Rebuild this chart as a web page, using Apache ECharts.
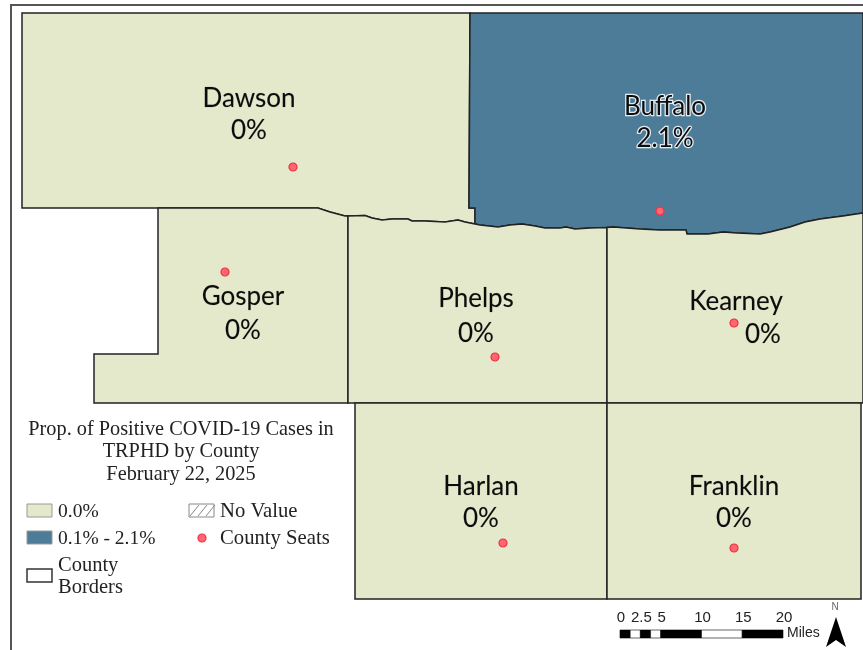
<!DOCTYPE html>
<html>
<head>
<meta charset="utf-8">
<title>TRPHD COVID-19 by County</title>
<script src="https://cdn.jsdelivr.net/npm/echarts@6/dist/echarts.min.js"></script>
<style>
  html, body { margin: 0; padding: 0; background: #fff; }
  #main { width: 863px; height: 650px; }
</style>
</head>
<body>
<div id="main"></div>
<script>
// county values (%)
const counties = ['Dawson', 'Buffalo', 'Gosper', 'Phelps', 'Kearney', 'Harlan', 'Franklin'];
const values = [0, 2.1, 0, 0, 0, 0, 0];
const valueText = ['0%', '2.1%', '0%', '0%', '0%', '0%', '0%'];

// map units, y measured from the top of the sheet
const riverWest = [[318, 208], [330, 212], [345, 216], [348, 216]];
const riverMid = [[348, 216], [365, 215.5], [372, 218], [382, 220], [392, 219], [408, 219], [412, 221], [425, 221], [445, 222], [458, 220], [465, 222], [475, 224]];
const riverEast = [[475, 224], [480, 225], [498, 227], [510, 225], [522, 224], [535, 226], [545, 228], [560, 228], [566, 227], [575, 229], [590, 228], [607, 227.5]];
const riverFar = [[607, 227.5], [613, 227], [640, 229], [660, 230], [686, 230], [687, 234], [708, 234], [723, 232], [737, 233], [760, 234], [770, 232], [790, 227], [805, 222], [820, 219], [843, 216], [863, 213]];

const dawsonShape = [[22, 13], [470, 13], [469, 208], [475, 208]].concat(riverMid.slice().reverse(), riverWest.slice().reverse().slice(1), [[22, 208]]);
const buffaloShape = [[470, 13], [863, 13], [863, 213]].concat(riverFar.slice().reverse().slice(1), riverEast.slice().reverse().slice(1), [[475, 208], [469, 208]]);
const gosperShape = [[158, 208]].concat(riverWest, [[348, 403], [94, 403], [94, 354], [158, 354]]);
const phelpsShape = riverMid.concat(riverEast.slice(1), [[607, 403], [348, 403]]);
const kearneyShape = riverFar.concat([[863, 403], [607, 403]]);
const harlanShape = [[355, 403], [607, 403], [607, 599], [355, 599]];
const franklinShape = [[607, 403], [861, 403], [861, 599], [607, 599]];
const shapes = [dawsonShape, buffaloShape, gosperShape, phelpsShape, kearneyShape, harlanShape, franklinShape];

const seats = [[293, 167], [660, 211], [225, 272], [495, 357], [734, 323], [503, 543], [734, 548]];
const nameAt = [[249, 98.5], [665, 106.5], [243, 296.5], [476, 298.5], [736, 301.5], [481, 486.5], [734, 486.5]];
const valueAt = [[249, 130.5], [665, 138.5], [243, 330.5], [476, 333.5], [763, 334.5], [481, 518.5], [734, 518.5]];

const titleLines = ['Prop. of Positive COVID-19 Cases in', 'TRPHD by County', 'February 22, 2025'];
const scaleMiles = [0, 2.5, 5, 10, 15, 20];
const scaleStops = [0, 1.25, 2.5, 3.75, 5, 10, 15, 20];

const LAND = '#e5e9cc';
const BLUE = '#4d7c99';
const LINE = '#222';
const SEAT = '#ff6670';
const SERIF = '"Liberation Serif", "DejaVu Serif", serif';

const toMap = (p) => [p[0], 650 - p[1]];

const geoJson = {
  type: 'FeatureCollection',
  features: counties.map((name, i) => ({
    type: 'Feature',
    properties: { name: name },
    geometry: { type: 'Polygon', coordinates: [shapes[i].concat([shapes[i][0]]).map(toMap)] }
  }))
};
echarts.registerMap('trphd', geoJson);

const legendText = (x, y, text, size) => ({
  type: 'text', x: x, y: y,
  style: { text: text, fill: '#222', font: size + 'px ' + SERIF, textVerticalAlign: 'middle' }
});
const swatch = (x, y, fill, stroke, w) => ({
  type: 'rect', shape: { x: x, y: y, width: 25, height: 13 },
  style: { fill: fill, stroke: stroke, lineWidth: w }
});

const hatch = [0, 1, 2].map((k) => ({
  type: 'line',
  shape: { x1: 190 + k * 8, y1: 516, x2: 199 + k * 8, y2: 505 },
  style: { stroke: '#888', lineWidth: 1 }
}));

// scale bar, 8.15 px per mile
const MILE = 8.15;
const scaleBar = scaleStops.slice(1).map((s, i) => ({
  type: 'rect',
  shape: { x: 620 + scaleStops[i] * MILE, y: 630, width: (s - scaleStops[i]) * MILE, height: 8 },
  style: { fill: i % 2 ? '#fff' : '#000', stroke: '#000', lineWidth: 0.6 }
}));
const scaleLabels = scaleMiles.map((m) => ({
  type: 'text', x: 621 + m * MILE, y: 618,
  style: { text: String(m), fill: '#222', font: '15px "Liberation Sans", Arial, sans-serif', textAlign: 'center', textVerticalAlign: 'middle' }
}));

function labelStyle(i, text) {
  // Buffalo sits on the dark fill, so its text gets a pale halo
  return {
    formatter: text,
    textBorderColor: values[i] > 0 ? 'rgba(255,255,255,0.85)' : 'rgba(0,0,0,0.25)',
    textBorderWidth: values[i] > 0 ? 2.5 : 0.4
  };
}

const chart = echarts.init(document.getElementById('main'));
chart.setOption({
  animation: false,
  backgroundColor: '#fff',
  title: titleLines.map((t, i) => ({
    text: t,
    left: 181,
    top: 418.5 + i * 22.5,
    textAlign: 'center',
    padding: 0,
    textStyle: { fontFamily: SERIF, fontSize: 20.3, fontWeight: 'normal', color: '#222', lineHeight: 22 }
  })),
  visualMap: {
    show: false,
    seriesIndex: 0,
    pieces: [
      { lte: 0, color: LAND },
      { gt: 0, color: BLUE }
    ]
  },
  geo: {
    map: 'trphd',
    left: 0, top: 0, right: 0, bottom: 0,
    aspectScale: 1,
    boundingCoords: [[0, 650], [863, 0]],
    silent: true,
    label: { show: false },
    itemStyle: { areaColor: LAND, borderColor: LINE, borderWidth: 1.5 }
  },
  series: [
    {
      type: 'map',
      geoIndex: 0,
      silent: true,
      data: counties.map((name, i) => ({ name: name, value: values[i] }))
    },
    {
      type: 'scatter',
      coordinateSystem: 'geo',
      silent: true,
      symbolSize: 8,
      itemStyle: { color: SEAT, borderColor: '#f03040', borderWidth: 1.2, opacity: 1 },
      data: seats.map(toMap),
      z: 5
    },
    {
      type: 'scatter',
      coordinateSystem: 'geo',
      silent: true,
      symbolSize: 0,
      z: 6,
      itemStyle: { opacity: 1 },
      label: {
        show: true,
        position: 'inside',
        fontFamily: 'Lato',
        fontSize: 26,
        color: '#0c0c0c'
      },
      data: counties.flatMap((name, i) => [
        { value: toMap(nameAt[i]), label: labelStyle(i, name) },
        { value: toMap(valueAt[i]), label: labelStyle(i, valueText[i]) }
      ])
    }
  ],
  graphic: [
    { type: 'line', shape: { x1: 11, y1: 5, x2: 863, y2: 5 }, style: { stroke: '#555', lineWidth: 2 } },
    { type: 'line', shape: { x1: 11, y1: 4, x2: 11, y2: 650 }, style: { stroke: '#555', lineWidth: 2 } },
    swatch(27, 504, LAND, '#999', 1),
    swatch(27, 531, BLUE, '#999', 1),
    swatch(27, 569, '#fff', '#333', 1.5),
    swatch(189, 504, '#fff', '#888', 1),
    ...hatch,
    { type: 'circle', shape: { cx: 202, cy: 538, r: 4 }, style: { fill: SEAT, stroke: '#f03040', lineWidth: 1.2 } },
    legendText(58, 511.5, '0.0%', 19.5),
    legendText(58, 538.5, '0.1% - 2.1%', 19.5),
    legendText(58, 565.5, 'County', 20.5),
    legendText(58, 587.5, 'Borders', 20.5),
    legendText(220, 511.5, 'No Value', 20.7),
    legendText(220, 538.5, 'County Seats', 20.7),
    ...scaleBar,
    ...scaleLabels,
    { type: 'text', x: 787, y: 633, style: { text: 'Miles', fill: '#222', font: '14px "Liberation Sans", Arial, sans-serif', textVerticalAlign: 'middle' } },
    { type: 'text', x: 835, y: 607, style: { text: 'N', fill: '#666', font: '10px "Liberation Sans", Arial, sans-serif', textAlign: 'center', textVerticalAlign: 'middle' } },
    { type: 'polygon', shape: { points: [[836, 617], [846, 647], [836, 640], [826, 647]] }, style: { fill: '#000' } }
  ]
});

window.addEventListener('resize', () => chart.resize());
</script>
</body>
</html>
